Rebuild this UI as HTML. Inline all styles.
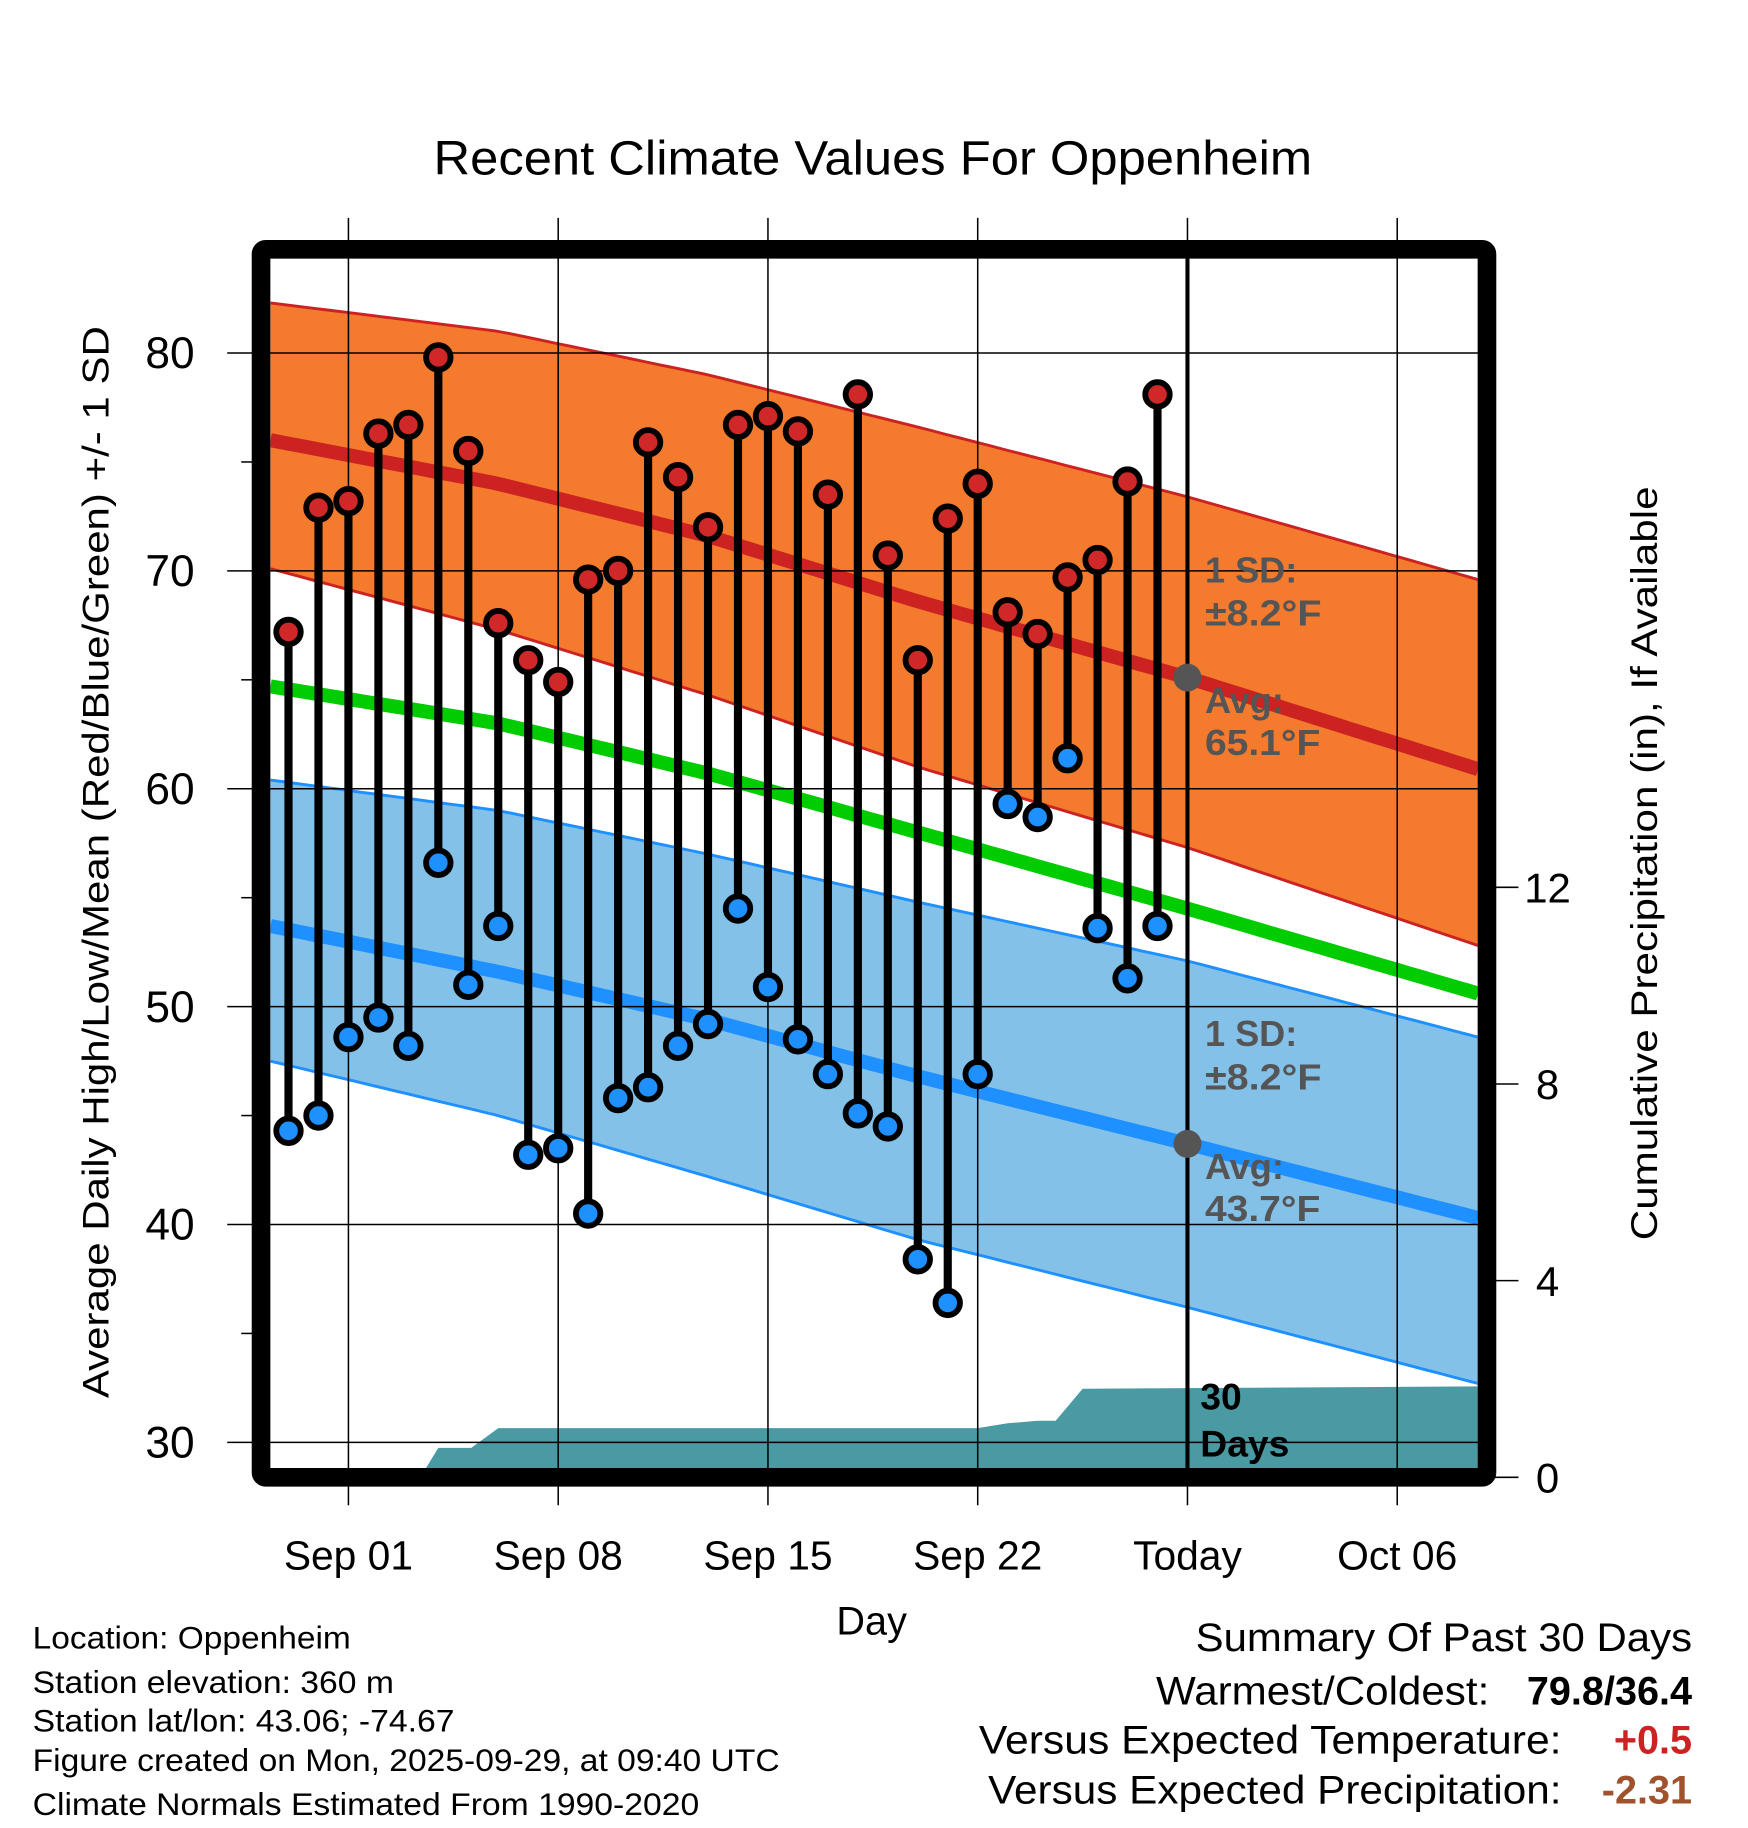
<!DOCTYPE html>
<html><head><meta charset="utf-8"><style>
html,body{margin:0;padding:0;background:#fff;}
svg{display:block;font-family:"Liberation Sans",Arial,sans-serif;}
</style></head><body>
<svg id="chart" width="1748" height="1828" viewBox="0 0 1500 1569" preserveAspectRatio="none" xmlns="http://www.w3.org/2000/svg">
<defs><clipPath id="plotclip"><rect x="232" y="222" width="1036" height="1038"/></clipPath></defs>
<rect width="1500" height="1569" fill="#fff"/>
<text x="749" y="150" text-anchor="middle" font-size="41" textLength="754" lengthAdjust="spacingAndGlyphs">Recent Climate Values For Oppenheim</text>
<g id="plot" clip-path="url(#plotclip)"></g>
<g id="axes"></g>
<text transform="translate(93,740) rotate(-90)" text-anchor="middle" font-size="32" textLength="920" lengthAdjust="spacingAndGlyphs">Average Daily High/Low/Mean (Red/Blue/Green) +/- 1 SD</text>
<text transform="translate(1422,741) rotate(-90)" text-anchor="middle" font-size="32" textLength="647" lengthAdjust="spacingAndGlyphs">Cumulative Precipitation (in), If Available</text>
<text x="748" y="1403" text-anchor="middle" font-size="34">Day</text>
<g font-size="27">
<text x="28" y="1415" textLength="273" lengthAdjust="spacingAndGlyphs">Location: Oppenheim</text>
<text x="28" y="1453" textLength="310" lengthAdjust="spacingAndGlyphs">Station elevation: 360 m</text>
<text x="28" y="1486" textLength="362" lengthAdjust="spacingAndGlyphs">Station lat/lon: 43.06; -74.67</text>
<text x="28" y="1520" textLength="641" lengthAdjust="spacingAndGlyphs">Figure created on Mon, 2025-09-29, at 09:40 UTC</text>
<text x="28" y="1558" textLength="572" lengthAdjust="spacingAndGlyphs">Climate Normals Estimated From 1990-2020</text>
</g>
<g font-size="34">
<text x="1026" y="1417" textLength="426" lengthAdjust="spacingAndGlyphs">Summary Of Past 30 Days</text>
<text x="992" y="1463" textLength="286" lengthAdjust="spacingAndGlyphs">Warmest/Coldest:</text>
<text x="1452" y="1463" text-anchor="end" font-weight="bold">79.8/36.4</text>
<text x="840" y="1505" textLength="500" lengthAdjust="spacingAndGlyphs">Versus Expected Temperature:</text>
<text x="1452" y="1505" text-anchor="end" font-weight="bold" fill="#cc2222">+0.5</text>
<text x="848" y="1548" textLength="492" lengthAdjust="spacingAndGlyphs">Versus Expected Precipitation:</text>
<text x="1452" y="1548" text-anchor="end" font-weight="bold" fill="#a0522d">-2.31</text>
</g>
</svg>
<script>
// Daily observations, starting Aug 30 (day -2 relative to Sep 01)
const obsStartDay = -2;
const highs = [67.2,72.9,73.2,76.3,76.7,79.8,75.5,67.6,65.9,64.9,69.6,70.0,75.9,74.3,72.0,76.7,77.1,76.4,73.5,78.1,70.7,65.9,72.4,74.0,68.1,67.1,69.7,70.5,74.1,78.1];
const lows  = [44.3,45.0,48.6,49.5,48.2,56.6,51.0,53.7,43.2,43.5,40.5,45.8,46.3,48.2,49.2,54.5,50.9,48.5,46.9,45.1,44.5,38.4,36.4,46.9,59.3,58.7,61.4,53.6,51.3,53.7];
// Normals
const normDays = [-2.6,5,12,19,28,37.7];
const normHigh = [76.0,74.0,71.6,68.6,65.1,60.9];
const hiUpper  = [82.3,81.0,79.0,76.6,73.4,69.6];
const hiLower  = [70.1,67.3,64.3,61.0,57.3,52.8];
const normLow  = [53.7,51.6,49.4,46.8,43.7,40.3];
const loUpper  = [60.4,59.0,57.0,54.8,52.1,48.6];
const loLower  = [47.5,45.0,42.2,39.3,36.2,32.7];
const normMean = [64.7,63.0,60.7,58.0,54.5,50.6];
// Cumulative precipitation
const precipDays = [-2.6,2.4,3,4.1,5,21,22,23,23.6,24.5,37.7];
const precipVals = [0,0,0.6,0.6,1.0,1.0,1.1,1.15,1.15,1.8,1.85];
// Ticks
const yTicks = [30,40,50,60,70,80];
const y2Ticks = [0,4,8,12];
const xTickDays = [0,7,14,21,28,35];
const xTickLabels = ["Sep 01","Sep 08","Sep 15","Sep 22","Today","Oct 06"];
const todayDay = 28;

const NS="http://www.w3.org/2000/svg";
const X = d => 299 + d*25.714;
const Y = t => 303 + (80-t)*18.7;
const Y2 = p => 1268 - p*42.2;
function mk(tag, attrs, parent){const e=document.createElementNS(NS,tag);for(const k in attrs)e.setAttribute(k,attrs[k]);parent.appendChild(e);return e;}
function interp(xs, ys, x){for(let i=0;i<xs.length-1;i++){if(x<=xs[i+1]){const f=(x-xs[i])/(xs[i+1]-xs[i]);return ys[i]+f*(ys[i+1]-ys[i]);}}return ys[ys.length-1];}
function samples(){const a=[];for(let d=-2.6;d<=37.7;d+=0.5)a.push(d);a.push(37.7);return a;}
function linePts(arr){return samples().map(d=>X(d).toFixed(1)+","+Y(interp(normDays,arr,d)).toFixed(1)).join(" ");}
function bandPts(up,lo){const s=samples();return s.map(d=>X(d).toFixed(1)+","+Y(interp(normDays,up,d)).toFixed(1)).concat(s.slice().reverse().map(d=>X(d).toFixed(1)+","+Y(interp(normDays,lo,d)).toFixed(1))).join(" ");}

const plot=document.getElementById('plot');
const axes=document.getElementById('axes');

let e;
e=mk('polygon',{points:bandPts(hiUpper,hiLower),fill:'#f47a2e'},plot);


e=mk('polygon',{points:bandPts(loUpper,loLower),fill:'#84c1e8'},plot);


[[hiUpper,'#cc2222','high-upper-line'],[hiLower,'#cc2222','high-lower-line'],[loUpper,'#1e90ff','low-upper-line'],[loLower,'#1e90ff','low-lower-line']].forEach(([a,c,n])=>{
  const l=mk('polyline',{points:linePts(a),fill:'none',stroke:c,'stroke-width':2.5},plot);
  
  
});
{
  let pts=precipDays.map((d,i)=>X(d).toFixed(1)+","+Y2(precipVals[i]).toFixed(1));
  pts.push(X(37.7)+",1270");pts.push(X(-2.6)+",1270");
  e=mk('polygon',{points:pts.join(" "),fill:'#4a9aa3'},plot);
  
  
}
[[normHigh,'#cc2222','mean-high-line'],[normLow,'#1e90ff','mean-low-line'],[normMean,'#00cc00','mean-temp-line']].forEach(([a,c,n])=>{
  const l=mk('polyline',{points:linePts(a),fill:'none',stroke:c,'stroke-width':12},plot);
  
  
});
xTickDays.forEach(d=>{
  const g=mk('line',{x1:X(d),x2:X(d),y1:187,y2:1292,stroke:'#000','stroke-width':1.3},axes);
  
  
});
yTicks.forEach(t=>{
  const g=mk('line',{x1:195,x2:1270,y1:Y(t),y2:Y(t),stroke:'#000','stroke-width':1.3},axes);
  
  
});
[35,45,55,65,75].forEach(t=>{mk('line',{x1:207,x2:218,y1:Y(t),y2:Y(t),stroke:'#000','stroke-width':1.3},axes);});
y2Ticks.forEach(p=>{mk('line',{x1:1280,x2:1303,y1:Y2(p),y2:Y2(p),stroke:'#000','stroke-width':1.3},axes);});
const stems=mk('g',{},axes);


highs.forEach((h,i)=>{
  const d=obsStartDay+i;
  const s=mk('line',{x1:X(d),x2:X(d),y1:Y(h),y2:Y(lows[i]),stroke:'#000','stroke-width':7},stems);
  
  
});
e=mk('line',{x1:X(todayDay),x2:X(todayDay),y1:222,y2:1262,stroke:'#000','stroke-width':3.5},axes);


highs.forEach((h,i)=>{
  const d=obsStartDay+i;
  const c=mk('circle',{cx:X(d),cy:Y(h),r:10.5,fill:'#d02828',stroke:'#000','stroke-width':5},stems);
  
  
  const c2=mk('circle',{cx:X(d),cy:Y(lows[i]),r:10.5,fill:'#1e90ff',stroke:'#000','stroke-width':5},stems);
  
  
});
e=mk('circle',{cx:X(todayDay),cy:Y(interp(normDays,normHigh,todayDay)),r:12,fill:'#555'},axes);


e=mk('circle',{cx:X(todayDay),cy:Y(interp(normDays,normLow,todayDay)),r:12,fill:'#555'},axes);


function txt(x,y,s,attrs,name){const t=mk('text',Object.assign({x:x,y:y},attrs),axes);t.textContent=s;return t;}
const ga={'font-size':31,'font-weight':'bold',fill:'#555'};
txt(1034,500,'1 SD:',ga,'high-sd-label');
txt(1034,537,'±8.2°F',Object.assign({textLength:100,lengthAdjust:'spacingAndGlyphs'},ga),'high-sd-value');
txt(1034,612,'Avg:',ga,'high-avg-label');
txt(1034,648,'65.1°F',Object.assign({textLength:99,lengthAdjust:'spacingAndGlyphs'},ga),'high-avg-value');
txt(1034,898,'1 SD:',ga,'low-sd-label');
txt(1034,935,'±8.2°F',Object.assign({textLength:100,lengthAdjust:'spacingAndGlyphs'},ga),'low-sd-value');
txt(1034,1012,'Avg:',ga,'low-avg-label');
txt(1034,1048,'43.7°F',Object.assign({textLength:99,lengthAdjust:'spacingAndGlyphs'},ga),'low-avg-value');
const ba={'font-size':32,'font-weight':'bold',fill:'#000'};
txt(1030,1210,'30',ba,'days-count-label');
txt(1030,1250,'Days',ba,'days-label');
e=mk('rect',{x:224,y:214,width:1052,height:1054,fill:'none',stroke:'#000','stroke-width':16,rx:4},axes);


yTicks.forEach(t=>{txt(167,Y(t)+13,String(t),{'font-size':38,'text-anchor':'end'},'y-tick-label');});
y2Ticks.forEach(p=>{txt(1328,Y2(p)+13,String(p),{'font-size':36,'text-anchor':'middle'},'y2-tick-label');});
xTickDays.forEach((d,i)=>{txt(X(d),1347,xTickLabels[i],{'font-size':35,'text-anchor':'middle'},'x-tick-label');});
</script>
</body></html>
